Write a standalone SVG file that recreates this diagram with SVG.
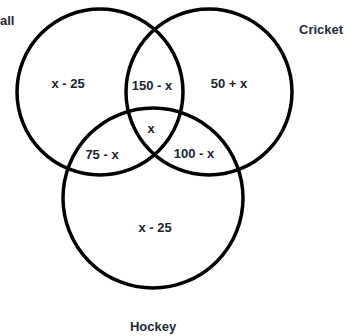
<svg xmlns="http://www.w3.org/2000/svg" width="347" height="336" viewBox="0 0 347 336">
<style>
.c{fill:none;stroke:#000;stroke-width:3.5}
.t{font-family:"Liberation Sans",Arial,sans-serif;font-weight:bold;font-size:13px;fill:#1c2430;text-anchor:middle}
.n{font-family:"Liberation Sans",Arial,sans-serif;font-weight:bold;font-size:13px;fill:#1f2b3b}
</style>
<rect width="347" height="336" fill="#fff"/>
<g id="football">
<circle class="c" cx="100" cy="92" r="83"/>
<text class="n" x="0" y="25">all</text>
</g>
<g id="cricket">
<circle class="c" cx="209" cy="92" r="83"/>
<text class="n" x="299" y="34">Cricket</text>
</g>
<g id="hockey">
<circle class="c" cx="153" cy="198" r="90"/>
<text class="n" x="153" y="331" text-anchor="middle">Hockey</text>
</g>
<g id="regions">
<text class="t" x="68" y="88">x - 25</text>
<text class="t" x="152" y="90">150 - x</text>
<text class="t" x="229" y="88">50 + x</text>
<text class="t" x="151" y="133">x</text>
<text class="t" x="194" y="158">100 - x</text>
<text class="t" x="102" y="159">75 - x</text>
<text class="t" x="155" y="232">x - 25</text>
</g>
<g id="connectors"/>
</svg>
